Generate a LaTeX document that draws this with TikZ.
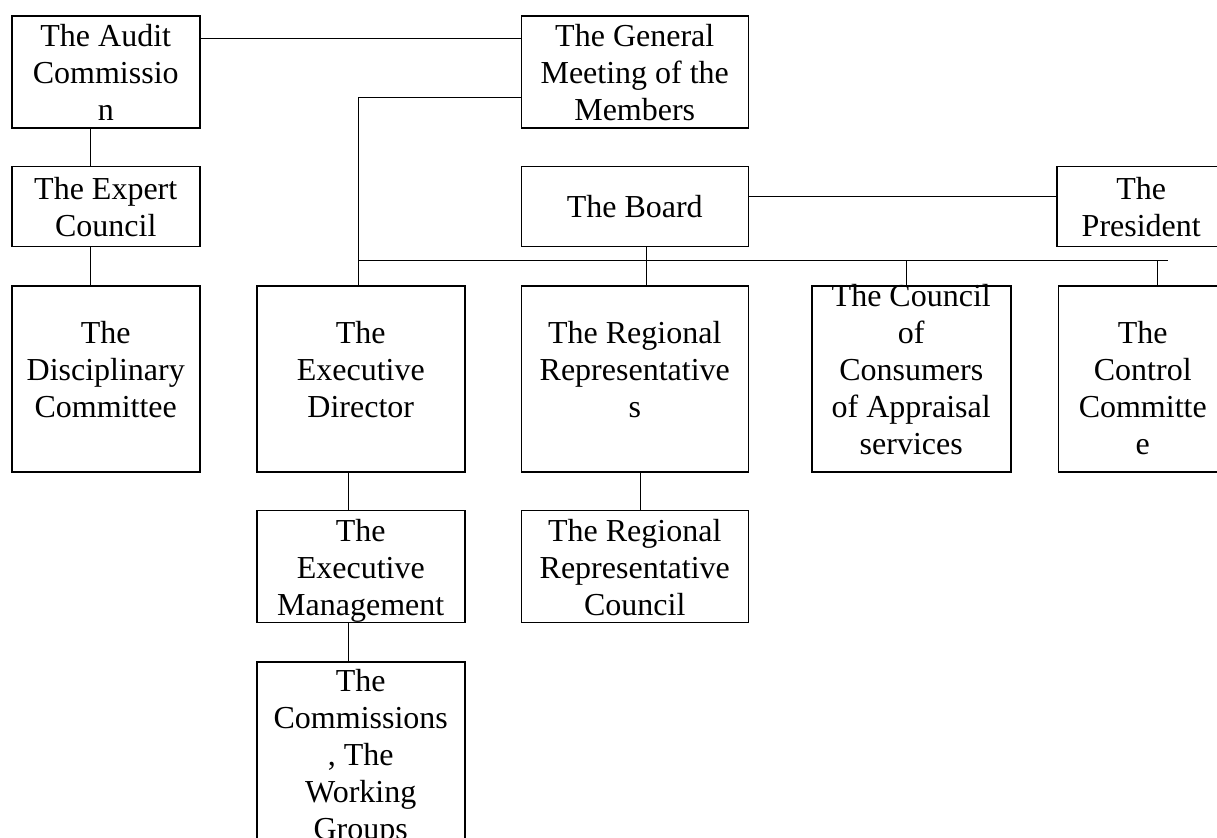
\documentclass[tikz,border=0pt]{standalone}
\usepackage{fontspec}
\setmainfont{Liberation Serif}
\usetikzlibrary{positioning}

\tikzset{
  unit/.style={draw, line width=.75pt, align=center, inner xsep=2pt, inner ysep=0pt,
    font=\fontsize{16pt}{18.5pt}\selectfont},
  % text height is taken above the last line
  short/.style={text height=35pt, text depth=5pt},
  medium/.style={text height=52.5pt, text depth=3.5pt},
  tall/.style={text height=66pt, text depth=27pt},
  full/.style={text height=84.5pt, text depth=8.5pt},
  link/.style={line width=.55pt},
}

\begin{document}
\begin{tikzpicture}
    \useasboundingbox (0,0) rectangle (608.5pt,-418.5pt);

    % upper part
    \node[unit, medium, minimum width=94pt, anchor=north west] (audit) at (5.5pt,-7.5pt) {The Audit\\Commissio\\n};
    \node[unit, medium, minimum width=113.5pt] (meeting) [right=160pt of audit] {The General\\Meeting of the\\Members};
    \node[unit, short, minimum width=94pt] (expert) [below=18.5pt of audit] {The Expert\\Council};
    \node[unit, tall, minimum width=94pt] (disciplinary) [below=19pt of expert] {The\\Disciplinary\\Committee};
    \node[unit, minimum width=113.5pt, text height=25.5pt, text depth=14.5pt] (board) [below=18.5pt of meeting] {The Board};
    \node[unit, short, minimum width=84.5pt] (president) [right=153.5pt of board] {The\\President};

    % the row under the board
    \node[unit, tall, minimum width=113.5pt] (regional) [below=19pt of board] {The Regional\\Representative\\s};
    \node[unit, tall, minimum width=104pt] (director) [left=27.5pt of regional] {The\\Executive\\Director};
    \node[unit, full, minimum width=99.5pt] (consumers) [right=31pt of regional] {The Council\\of\\Consumers\\of Appraisal\\services};
    \node[unit, full, minimum width=84.5pt] (control) [right=23pt of consumers] {The\\Control\\Committe\\e};

    % lower part
    \node[unit, medium, minimum width=104pt] (management) [below=18.5pt of director] {The\\Executive\\Management};
    \node[unit, medium, minimum width=113.5pt] (regcouncil) [below=18.5pt of regional] {The Regional\\Representative\\Council};
    \node[unit, minimum width=104pt, text height=89pt, text depth=6pt] (commissions) [below=19pt of management] {The\\Commissions\\, The\\Working\\Groups};

    \coordinate (drop) at ([xshift=-1pt]director.north);
    \coordinate (busend) at ([xshift=55pt,yshift=12.25pt]control.north west);

    \draw[link] ([yshift=16.5pt]audit.east) -- ([yshift=16.5pt]meeting.west);
    \draw[link] ([xshift=-7.5pt]audit.south) -- ([xshift=-7.5pt]expert.north);
    \draw[link] ([xshift=-7.5pt]expert.south) -- ([xshift=-7.5pt]disciplinary.north);
    \draw[link] ([yshift=-13pt]meeting.west) -| (drop);
    \draw[link] (drop |- busend) -- (busend);
    \draw[link] ([yshift=5pt]board.east) -- ([yshift=5pt]president.west);
    \draw[link] ([xshift=5.75pt]board.south) -- ([xshift=5.75pt]regional.north);
    \draw[link] ([xshift=-2.25pt]consumers.north) |- (busend);
    \draw[link] ([xshift=7.25pt]control.north) |- (busend);
    \draw[link] ([xshift=-6pt]director.south) -- ([xshift=-6pt]management.north);
    \draw[link] ([xshift=-6pt]management.south) -- ([xshift=-6pt]commissions.north);
    \draw[link] ([xshift=2.75pt]regional.south) -- ([xshift=2.75pt]regcouncil.north);
\end{tikzpicture}
\end{document}
